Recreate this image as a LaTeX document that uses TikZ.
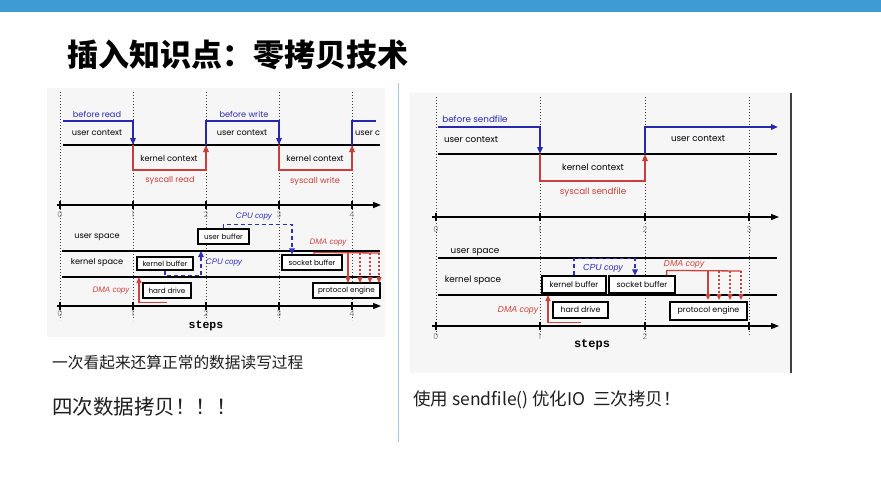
\documentclass[tikz,border=0pt]{standalone}
\usepackage{fontspec}
\setmainfont{Liberation Sans}
\newfontfamily\cjk{Noto Sans CJK SC}
\newfontfamily\figfont{Poppins}
\newfontfamily\copyfont{Liberation Sans}
\newfontfamily\stepsfont{Liberation Mono}
\usepackage{xcolor}
\usetikzlibrary{arrows.meta,positioning,calc}

\definecolor{topbar}{RGB}{62,156,210}
\definecolor{divider}{RGB}{165,198,226}
\definecolor{figbg}{RGB}{246,246,246}
\definecolor{ctxblue}{RGB}{40,40,175}
\definecolor{ctxred}{RGB}{200,62,58}
\definecolor{cpublue}{RGB}{45,45,190}
\definecolor{dmared}{RGB}{208,66,60}
\definecolor{txt}{RGB}{30,30,30}

\begin{document}
\begin{tikzpicture}[x=1pt,y=-1pt,
  ctx/.style={line width=1.6pt},
  ctxarrow/.style={-{Triangle[length=7pt,width=5.5pt]}},
  band/.style={black, line width=1.2pt},
  axis/.style={black, line width=1.4pt, -{Triangle[length=8pt,width=6pt]}},
  grid/.style={black!75, line width=0.7pt, dash pattern=on 1.2pt off 1.8pt},
  buf/.style={draw, line width=1.2pt, fill=white, inner sep=0pt},
  lbl/.style={font=\figfont\fontsize{8.2}{9}\selectfont, inner sep=0pt},
  lblR/.style={font=\figfont\fontsize{8.8}{9}\selectfont, inner sep=0pt},
  tick/.style={font=\figfont\fontsize{8}{8}\selectfont, text=black!45, inner sep=0pt},
  cpu/.style={cpublue, line width=1.6pt, dash pattern=on 4pt off 3pt,
    -{Triangle[length=6pt,width=5.5pt]}},
  dma/.style={dmared, line width=1.3pt, -{Triangle[length=6pt,width=5pt]}},
  copylbl/.style={font=\copyfont\itshape\fontsize{8}{9}\selectfont, inner sep=0pt},
  stepslbl/.style={font=\stepsfont\bfseries\fontsize{11.5}{12}\selectfont, inner sep=0pt},
  cjktext/.style={font=\cjk, text=txt, anchor=west, inner sep=0pt}
]
\fill[white] (0,0) rectangle (881,483);
\useasboundingbox (0,0) rectangle (881,483);

% slide frame
\fill[topbar] (0,0) rectangle (881,12);
\node[anchor=west, inner sep=0pt, font=\cjk\bfseries\fontsize{31}{31}\selectfont] (title) at (67,55) {插入知识点：零拷贝技术};
\draw[divider, line width=1pt] (398,83) -- (398,442);

% ---------- left figure: read + write ----------
\fill[figbg] (47,88) rectangle (385,337);
\foreach \x in {60,133,206,279,352} \draw[grid] (\x,92) -- (\x,320);

% contexts
\draw[band] (63,145) -- (380,145);
\draw[ctx, ctxblue, ctxarrow] (63,121) -| (133,145);
\draw[ctx, ctxred, ctxarrow] (133,145) |- (206,170) -- (206,145);
\draw[ctx, ctxblue, ctxarrow] (206,145) |- (279,121) -- (279,145);
\draw[ctx, ctxred, ctxarrow] (279,145) |- (352,170) -- (352,145);
\draw[ctx, ctxblue] (352,145) |- (376,121);

\node[lbl, text=ctxblue] (brL) at (97,114) {before read};
\node[lbl] (ucL1) at (97,133) {user context};
\node[lbl] (kcL1) at (169,158) {kernel context};
\node[lbl, text=ctxred] (srL) at (170,181) {syscall read};
\node[lbl, text=ctxblue] (bwL) at (244,114) {before write};
\node[lbl] (ucL2) at (242,133) {user context};
\node[lbl] (kcL2) at (315,158) {kernel context};
\node[lbl, text=ctxred] (swL) at (315,181) {syscall write};
\node[lbl, anchor=west] (ucL3) at (355,133) {user c};

% axes
\draw[axis] (57,205) -- (381,205);
\draw[axis] (57,306) -- (381,306);
\foreach \x/\n in {60/0,133/1,206/2,279/3,352/4} {
  \draw[band] (\x,201) -- (\x,209);
  \draw[band] (\x,302) -- (\x,310);
  \node[tick] (tLa\n) at (\x,215) {\n};
  \node[tick] (tLb\n) at (\x,314) {\n};
}
\node[stepslbl] (stepsL) at (206,326) {steps};

% spaces
\coordinate (usL) at (62,251);
\coordinate (ksL) at (62,277);
\draw[band] (usL) -- ++(318,0);
\draw[band] (ksL) -- ++(318,0);
\node[lbl] (uspL) at (97,237) {user space};
\node[lbl] (kspL) at (97,263) {kernel space};

% buffers
\begin{scope}[every node/.append style={font=\figfont\fontsize{7.2}{8}\selectfont}]
\node[buf, minimum width=56pt, minimum height=13pt] (kbL) at (165,263.5) {kernel buffer};
\node[buf, minimum width=51pt, minimum height=15pt] (ubL) at (223.5,236.5) {user buffer};
\node[buf, minimum width=60pt, minimum height=15pt] (sbL) at (312,262.5) {socket buffer};
\node[buf, minimum width=48pt, minimum height=15pt] (hdL) at (167,290.5) {hard drive};
\node[buf, minimum width=67pt, minimum height=15pt] (peL) at (346.5,290.5) {protocol engine};
\end{scope}

% copies
\draw[dma] ([yshift=-4pt]hdL.south) -| (139,277);
\node[copylbl, text=dmared] (dmaL1) at (111,291) {DMA copy};
\draw[cpu] (kbL.south) -- ++(0,5) -| (201,251);
\node[copylbl, text=cpublue] (cpuL1) at (224,263) {CPU copy};
\draw[cpu] (ubL.north) -- ++(0,-4) -| ([xshift=-20pt]sbL.north);
\node[copylbl, text=cpublue] (cpuL2) at (254,217) {CPU copy};
\draw[dmared, line width=1.3pt] ([xshift=2pt]sbL.north) -- ++(0,-2) -- (380,253);
\draw[dma] (348,253) -- (348,283);
\foreach \x in {360,370,379} \draw[dma, dash pattern=on 2pt off 2pt] (\x,253) -- (\x,283);
\node[copylbl, text=dmared] (dmaL2) at (328,243) {DMA copy};

% ---------- right figure: sendfile ----------
\fill[figbg] (410,93) rectangle (791,373);
\draw[black!75, line width=1.6pt] (791,93) -- (791,373);
\foreach \x in {436,540,645,749} \draw[grid] (\x,97) -- (\x,335);

% contexts
\draw[band] (438,154) -- (777,154);
\draw[ctx, ctxblue, ctxarrow] (438,127) -| (540,154);
\draw[ctx, ctxred, ctxarrow] (540,154) |- (645,181) -- (645,154);
\draw[ctx, ctxblue, ctxarrow] (645,154) |- (778,127);

\node[lblR, text=ctxblue] (bsR) at (475,119) {before sendfile};
\node[lblR] (ucR1) at (471,140) {user context};
\node[lblR] (ucR2) at (698,139) {user context};
\node[lblR] (kcR) at (593,167) {kernel context};
\node[lblR, text=ctxred] (ssR) at (593,192) {syscall sendfile};

% axes
\draw[axis] (432,217) -- (779,217);
\draw[axis] (432,326) -- (779,326);
\foreach \x/\n in {436/0,540/1,645/2,749/3} {
  \draw[band] (\x,213) -- (\x,221);
  \draw[band] (\x,322) -- (\x,330);
  \node[tick] (tRa\n) at (\x,230) {\n};
}
\foreach \x/\n in {436/0,540/1,645/2} \node[tick] (tRb\n) at (\x,337) {\n};
\node[stepslbl, font=\stepsfont\bfseries\fontsize{12}{12}\selectfont] (stepsR) at (592,345) {steps};

% spaces
\coordinate (usR) at (438,258);
\coordinate (ksR) at (438,295);
\draw[band] (usR) -- ++(339,0);
\draw[band] (ksR) -- ++(339,0);
\node[lblR] (uspR) at (475,252) {user space};
\node[lblR] (kspR) at (473,280) {kernel space};

% buffers
\begin{scope}[every node/.append style={font=\figfont\fontsize{7.8}{8}\selectfont}]
\node[buf, minimum width=64pt, minimum height=17pt] (kbR) at (574,284.5) {kernel buffer};
\node[buf, minimum width=66pt, minimum height=17pt] (sbR) at (642,284.5) {socket buffer};
\node[buf, minimum width=55pt, minimum height=16pt] (hdR) at (580.5,310) {hard drive};
\node[buf, minimum width=77pt, minimum height=18pt] (peR) at (708.5,311) {protocol engine};
\end{scope}

% copies
\draw[dma] ([yshift=-4pt]hdR.south) -| (548,295);
\node[copylbl, text=dmared, font=\copyfont\itshape\fontsize{8.8}{9}\selectfont] (dmaR1) at (518,310) {DMA copy};
\draw[cpu] (kbR.north) -- ++(0,-17) -| ([xshift=-7pt]sbR.north);
\node[copylbl, text=cpublue, font=\copyfont\itshape\fontsize{8.8}{9}\selectfont] (cpuR) at (603,268) {CPU copy};
\draw[dmared, line width=1.3pt] ([xshift=-9pt]sbR.north east) -- ++(0,-5) -- (741,271);
\draw[dma] (708,271) -- (708,300);
\foreach \x in {719,730,741} \draw[dma, dash pattern=on 2pt off 2pt] (\x,271) -- (\x,300);
\node[copylbl, text=dmared, font=\copyfont\itshape\fontsize{8.8}{9}\selectfont] (dmaR2) at (684,264) {DMA copy};

% ---------- captions ----------
\node[cjktext, font=\cjk\fontsize{15.7}{16}\selectfont] (capA) at (52,363) {一次看起来还算正常的数据读写过程};
\node[cjktext, font=\cjk\fontsize{20.5}{21}\selectfont] (capB) at (52,407) {四次数据拷贝！！！};
\node[cjktext, font=\cjk\fontsize{17.5}{18}\selectfont] (capC) at (413,400) {使用 sendfile() 优化IO\ \ 三次拷贝！};
\end{tikzpicture}
\end{document}
